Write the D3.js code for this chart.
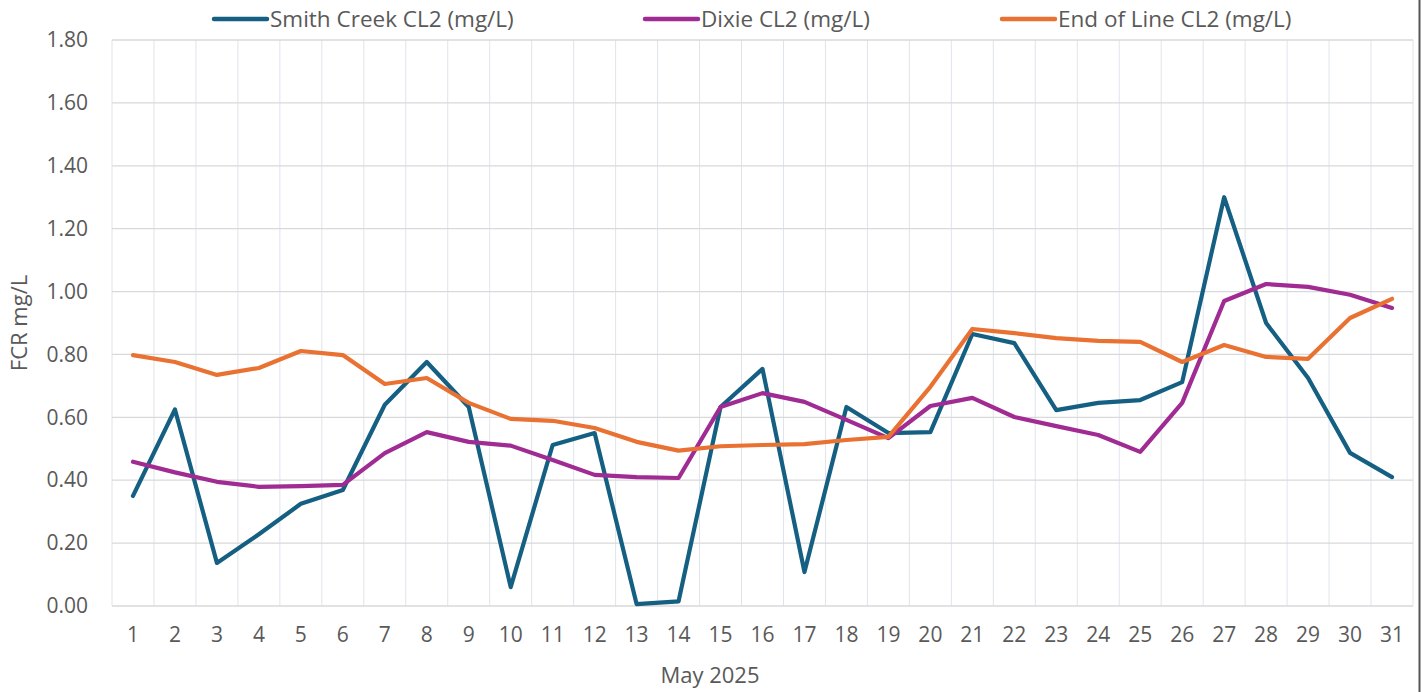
<!DOCTYPE html>
<html><head><meta charset="utf-8">
<script src="https://cdn.jsdelivr.net/npm/d3@7"></script>
<style>body{margin:0;background:#fff;}svg{display:block;font-family:"Open Sans",sans-serif;}</style>
</head><body><svg id="c" width="1424" height="692"></svg>
<script>
const days = d3.range(1,32).map(String);
const smithCreek = [0.35,0.625,0.137,0.228,0.325,0.369,0.64,0.776,0.633,0.06,0.512,0.55,0.006,0.015,0.633,0.754,0.108,0.633,0.55,0.553,0.865,0.836,0.623,0.646,0.655,0.712,1.30,0.90,0.725,0.487,0.41];
const dixie = [0.459,0.425,0.395,0.379,0.381,0.385,0.486,0.553,0.522,0.51,0.464,0.417,0.41,0.407,0.633,0.677,0.649,0.592,0.534,0.636,0.662,0.601,0.572,0.544,0.49,0.646,0.97,1.024,1.015,0.99,0.948];
const endOfLine = [0.798,0.776,0.735,0.757,0.811,0.798,0.706,0.725,0.646,0.595,0.589,0.566,0.522,0.494,0.508,0.512,0.515,0.528,0.538,0.697,0.881,0.868,0.852,0.843,0.84,0.776,0.83,0.792,0.786,0.916,0.977];
const yTicks = [0,0.2,0.4,0.6,0.8,1.0,1.2,1.4,1.6,1.8];
const series = [
  {name:"Smith Creek CL2 (mg/L)", values:smithCreek, color:"#156082"},
  {name:"Dixie CL2 (mg/L)", values:dixie, color:"#A02B93"},
  {name:"End of Line CL2 (mg/L)", values:endOfLine, color:"#E97132"}
];
const svg = d3.select("#c");
const L=112,R=1413,T=40,B=606;
const x = d3.scaleBand().domain(days).range([L,R]);
const y = d3.scaleLinear().domain([0,1.8]).range([B,T]);
svg.append("g").selectAll("line").data(d3.range(0,32)).join("line")
  .attr("x1",i=>L+i*x.bandwidth()).attr("x2",i=>L+i*x.bandwidth())
  .attr("y1",T).attr("y2",B).attr("stroke","#dfe4ec").attr("stroke-width",1);
svg.append("g").selectAll("line").data(yTicks).join("line")
  .attr("x1",L).attr("x2",R).attr("y1",d=>y(d)).attr("y2",d=>y(d))
  .attr("stroke","#d9d9d9").attr("stroke-width",1.3);
const yAxis = d3.axisLeft(y).tickValues(yTicks).tickFormat(d3.format(".2f")).tickSize(0).tickPadding(24);
const gy = svg.append("g").attr("transform",`translate(${L},0)`).call(yAxis);
gy.select(".domain").remove();
gy.selectAll("text").attr("fill","#595959").style("font-size","21px").style("font-family","Open Sans");
const xAxis = d3.axisBottom(x).tickSize(0).tickPadding(21);
const gx = svg.append("g").attr("transform",`translate(0,${B})`).call(xAxis);
gx.select(".domain").remove();
gx.selectAll("text").attr("fill","#595959").style("font-size","21px").style("font-family","Open Sans");
svg.append("text").attr("x",710).attr("y",683).attr("text-anchor","middle")
  .attr("fill","#595959").style("font-size","22px").text("May 2025");
svg.append("text").attr("transform",`translate(27,${(T+B)/2}) rotate(-90)`).attr("text-anchor","middle")
  .attr("fill","#595959").style("font-size","22px").text("FCR mg/L");
const line = d3.line().x((d,i)=>x(days[i])+x.bandwidth()/2).y(d=>y(d));
svg.append("g").selectAll("path").data(series).join("path")
  .attr("d",s=>line(s.values)).attr("fill","none").attr("stroke",s=>s.color)
  .attr("stroke-width",4.2).attr("stroke-linejoin","round").attr("stroke-linecap","round");
const legX = [212,643,1000];
const lg = svg.append("g").selectAll("g").data(series).join("g")
  .attr("transform",(s,i)=>`translate(${legX[i]},19)`);
lg.append("line").attr("x1",2).attr("x2",55).attr("stroke",s=>s.color).attr("stroke-width",4.5).attr("stroke-linecap","round");
lg.append("text").attr("x",58).attr("y",8).attr("fill","#595959").style("font-size","22.5px").text(s=>s.name);
svg.append("line").attr("x1",1419.5).attr("x2",1419.5).attr("y1",0).attr("y2",692).attr("stroke","#555").attr("stroke-width",2);
</script></body></html>
